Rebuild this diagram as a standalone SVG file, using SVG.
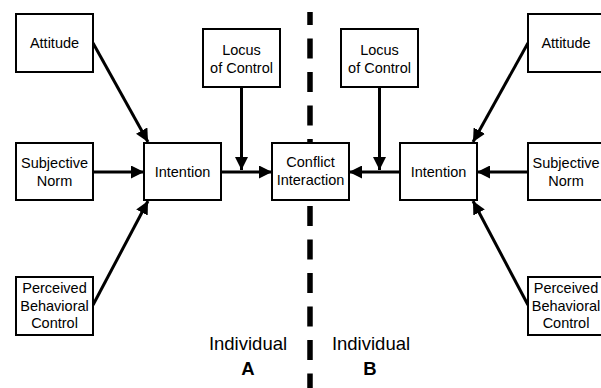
<svg xmlns="http://www.w3.org/2000/svg" width="601" height="388" viewBox="0 0 601 388">
<style>
.box{fill:#fff;stroke:#000;stroke-width:2}
.t{font-family:"Liberation Sans",Arial,Helvetica,sans-serif;font-size:14.5px;fill:#000;text-anchor:middle}
.lbl{font-family:"Liberation Sans",Arial,Helvetica,sans-serif;font-size:18.5px;fill:#000;text-anchor:middle}
.b{font-weight:bold}
.c{stroke:#000;stroke-width:3;fill:none}
</style>
<defs>
<marker id="ah" markerUnits="userSpaceOnUse" markerWidth="13" markerHeight="13" refX="12" refY="6" orient="auto" viewBox="0 0 12 12">
<path d="M0,0 L12,6 L0,12 z" fill="#000"/>
</marker>
</defs>
<rect width="601" height="388" fill="#fff"/>
<line id="divider" x1="310" y1="12" x2="310" y2="388" stroke="#000" stroke-width="5.5" stroke-dasharray="20 13.5" stroke-dashoffset="7"/>
<g id="connectors">
<line class="c" x1="93" y1="43" x2="148" y2="142" marker-end="url(#ah)"/>
<line class="c" x1="93" y1="172" x2="144" y2="172" marker-end="url(#ah)"/>
<line class="c" x1="93" y1="305" x2="148" y2="201" marker-end="url(#ah)"/>
<line class="c" x1="221" y1="172" x2="272" y2="172" marker-end="url(#ah)"/>
<line class="c" x1="241.5" y1="87" x2="241.5" y2="170" marker-end="url(#ah)"/>
<line class="c" x1="528" y1="43" x2="473" y2="142" marker-end="url(#ah)"/>
<line class="c" x1="528" y1="172" x2="477" y2="172" marker-end="url(#ah)"/>
<line class="c" x1="528" y1="305" x2="473" y2="201" marker-end="url(#ah)"/>
<line class="c" x1="400" y1="172" x2="349" y2="172" marker-end="url(#ah)"/>
<line class="c" x1="379.5" y1="87" x2="379.5" y2="170" marker-end="url(#ah)"/>
</g>
<g id="attitudeA"><rect class="box" x="16" y="14" width="77" height="58"/><text class="t" x="54.5" y="48">Attitude</text></g>
<g id="normA"><rect class="box" x="16" y="143" width="77" height="57"/><text class="t" x="54.5" y="168">Subjective</text><text class="t" x="54.5" y="186">Norm</text></g>
<g id="pbcA"><rect class="box" x="16" y="277" width="77" height="58"/><text class="t" x="54.5" y="293">Perceived</text><text class="t" x="54.5" y="311">Behavioral</text><text class="t" x="54.5" y="328">Control</text></g>
<g id="intentionA"><rect class="box" x="144" y="143" width="77" height="57"/><text class="t" x="182.5" y="177">Intention</text></g>
<g id="locusA"><rect class="box" x="203" y="29" width="77" height="58"/><text class="t" x="241.5" y="55">Locus</text><text class="t" x="241.5" y="73">of Control</text></g>
<g id="conflict"><rect class="box" x="272" y="143" width="77" height="57"/><text class="t" x="310.5" y="167">Conflict</text><text class="t" x="310.5" y="185">Interaction</text></g>
<g id="locusB"><rect class="box" x="341" y="29" width="77" height="58"/><text class="t" x="379.5" y="55">Locus</text><text class="t" x="379.5" y="73">of Control</text></g>
<g id="intentionB"><rect class="box" x="400" y="143" width="77" height="57"/><text class="t" x="438.5" y="177">Intention</text></g>
<g id="attitudeB"><rect class="box" x="528" y="14" width="77" height="58"/><text class="t" x="566" y="48">Attitude</text></g>
<g id="normB"><rect class="box" x="528" y="143" width="77" height="57"/><text class="t" x="566" y="168">Subjective</text><text class="t" x="566" y="186">Norm</text></g>
<g id="pbcB"><rect class="box" x="528" y="277" width="77" height="58"/><text class="t" x="566" y="293">Perceived</text><text class="t" x="566" y="311">Behavioral</text><text class="t" x="566" y="328">Control</text></g>
<g id="labelA"><text class="lbl" x="248" y="350">Individual</text><text class="lbl b" x="248" y="375">A</text></g>
<g id="labelB"><text class="lbl" x="371" y="350">Individual</text><text class="lbl b" x="370" y="375">B</text></g>
</svg>
